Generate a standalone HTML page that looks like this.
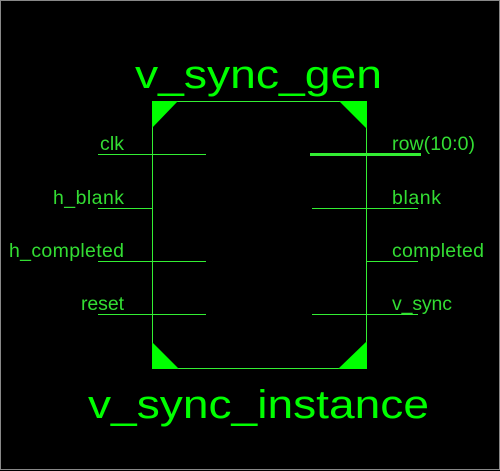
<!DOCTYPE html>
<html><head><style>
html,body{margin:0;padding:0;background:#000;}
svg{display:block;}
text{font-family:"Liberation Sans",sans-serif;fill:#00ff00;}
</style></head><body>
<svg width="500" height="471" viewBox="0 0 500 471">
<rect x="0.5" y="0.5" width="499" height="469" fill="#000" stroke="#888" stroke-width="1"/>
<text x="135" y="88" font-size="40" textLength="247" lengthAdjust="spacingAndGlyphs">v_sync_gen</text>
<text x="88" y="418" font-size="40" textLength="341" lengthAdjust="spacingAndGlyphs">v_sync_instance</text>
<g stroke="#33ee33" stroke-width="1" fill="none">
<rect x="152.5" y="101.5" width="214" height="267"/>
<line x1="98" y1="154.5" x2="206" y2="154.5"/>
<line x1="98" y1="208.5" x2="152" y2="208.5"/>
<line x1="98" y1="261.5" x2="206" y2="261.5"/>
<line x1="98" y1="314.5" x2="206" y2="314.5"/>
<line x1="312" y1="208.5" x2="418" y2="208.5"/>
<line x1="366" y1="261.5" x2="418" y2="261.5"/>
<line x1="312" y1="314.5" x2="418" y2="314.5"/>
</g>
<line x1="310" y1="154.5" x2="421" y2="154.5" stroke="#33ee33" stroke-width="3"/>
<g fill="#00ff00">
<polygon points="152,101 178,101 152,128"/>
<polygon points="367,101 339,101 367,129"/>
<polygon points="152,369 152,342 179,369"/>
<polygon points="367,369 367,341 338,369"/>
</g>
<g font-size="19.5" lengthAdjust="spacingAndGlyphs">
<text x="100" y="150" textLength="24" style="fill:#33dd33">clk</text>
<text x="53" y="204" textLength="71" style="fill:#33dd33">h_blank</text>
<text x="9" y="257" textLength="115" style="fill:#33dd33">h_completed</text>
<text x="81" y="310" textLength="43" style="fill:#33dd33">reset</text>
<text x="392" y="150" textLength="83" style="fill:#33dd33">row(10:0)</text>
<text x="392" y="204" textLength="49" style="fill:#33dd33">blank</text>
<text x="392" y="257" textLength="92" style="fill:#33dd33">completed</text>
<text x="392" y="310" textLength="60" style="fill:#33dd33">v_sync</text>
</g>
</svg>
</body></html>
